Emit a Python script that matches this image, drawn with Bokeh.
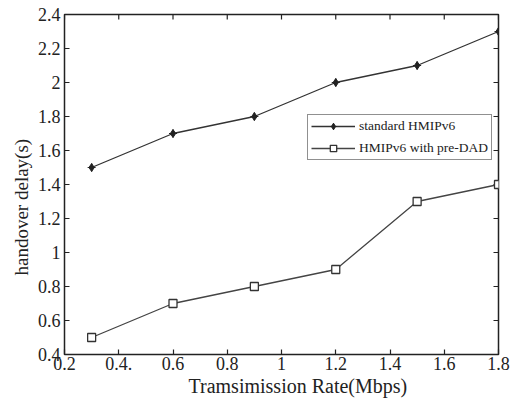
import math
from bokeh.plotting import figure
from bokeh.models import LinearAxis, Range1d, FixedTicker, Legend, LegendItem, Title
from bokeh.embed import file_html
from bokeh.resources import INLINE

rate = [0.3, 0.6, 0.9, 1.2, 1.5, 1.8]
standard = [1.5, 1.7, 1.8, 2.0, 2.1, 2.3]
predad = [0.5, 0.7, 0.8, 0.9, 1.3, 1.4]
xticks = [0.2, 0.4, 0.6, 0.8, 1.0, 1.2, 1.4, 1.6, 1.8]
xlabels = ["0.2", "0.4.", "0.6", "0.8", "1", "1.2", "1.4", "1.6", "1.8"]
yticks = [0.4, 0.6, 0.8, 1.0, 1.2, 1.4, 1.6, 1.8, 2.0, 2.2, 2.4]
ylabels = ["0.4", "0.6", "0.8", "1", "1.2", "1.4", "1.6", "1.8", "2", "2.2", "2.4"]

FONT = "Liberation Serif"
INK = "#222222"

p = figure(width=518, height=398, output_backend="svg", toolbar_location=None,
           x_range=Range1d(0.2, 1.8), y_range=Range1d(0.4, 2.4),
           min_border_left=64, min_border_right=20, min_border_top=14, min_border_bottom=44,
           x_axis_location=None, y_axis_location=None)
p.grid.visible = False
p.outline_line_color = INK
p.outline_line_width = 1.5
p.background_fill_color = "white"
p.border_fill_color = "white"

def style(ax, labels):
    ax.major_tick_in = 5
    ax.major_tick_out = 0
    ax.minor_tick_line_color = None
    ax.axis_line_color = None
    ax.major_tick_line_color = INK
    ax.major_tick_line_width = 1.2
    ax.major_label_text_font = FONT
    ax.major_label_text_color = INK
    ax.major_label_text_font_size = "18px"
    ax.major_label_overrides = labels

xb = LinearAxis(ticker=FixedTicker(ticks=xticks))
style(xb, {t: l for t, l in zip(xticks, xlabels)})
xb.major_label_standoff = 2
p.add_layout(xb, "below")

yl = LinearAxis(ticker=FixedTicker(ticks=yticks))
style(yl, {t: l for t, l in zip(yticks, ylabels)})
yl.major_label_standoff = 4
p.add_layout(yl, "left")

# axis titles (slightly off-centre, as in the original)
p.add_layout(Title(text="Tramsimission Rate(Mbps)", align="left", offset=124, standoff=0,
                   text_font=FONT, text_font_style="normal", text_font_size="20px",
                   text_color=INK), "below")
p.add_layout(Title(text="handover delay(s)", align="left", offset=79, standoff=5,
                   text_font=FONT, text_font_style="normal", text_font_size="19px",
                   text_color=INK), "left")

# mirrored inward ticks on the top and right edges of the frame
p.scatter(xticks, [p.y_range.end] * len(xticks), marker="dash", angle=math.pi / 2,
          size=10, line_color=INK, line_width=1.2)
p.scatter([p.x_range.end] * len(yticks), yticks, marker="dash",
          size=10, line_color=INK, line_width=1.2)

l1 = p.line(rate, standard, line_color="#333333", line_width=1.3)
m1 = p.scatter(rate, standard, marker="diamond", size=8, fill_color="#222222", line_color="#222222")
m1b = p.scatter(rate, standard, marker="cross", size=8, line_color="#222222", line_width=1.2)
l2 = p.line(rate, predad, line_color="#444444", line_width=1.3)
m2 = p.scatter(rate, predad, marker="square", size=8, fill_color="white", line_color="#333333", line_width=1.3)

legend = Legend(items=[LegendItem(label="standard HMIPv6", renderers=[l1, m1, m1b]),
                       LegendItem(label="HMIPv6 with pre-DAD", renderers=[l2, m2])],
                location=(243, 194), label_text_font=FONT, label_text_font_size="13.5px",
                label_text_color=INK, border_line_color=INK, border_line_width=1.2,
                glyph_width=44, glyph_height=16, label_standoff=4, spacing=6,
                padding=3, margin=0, label_height=16)
p.add_layout(legend, "center")

open("out.html", "w").write(file_html(p, INLINE))
